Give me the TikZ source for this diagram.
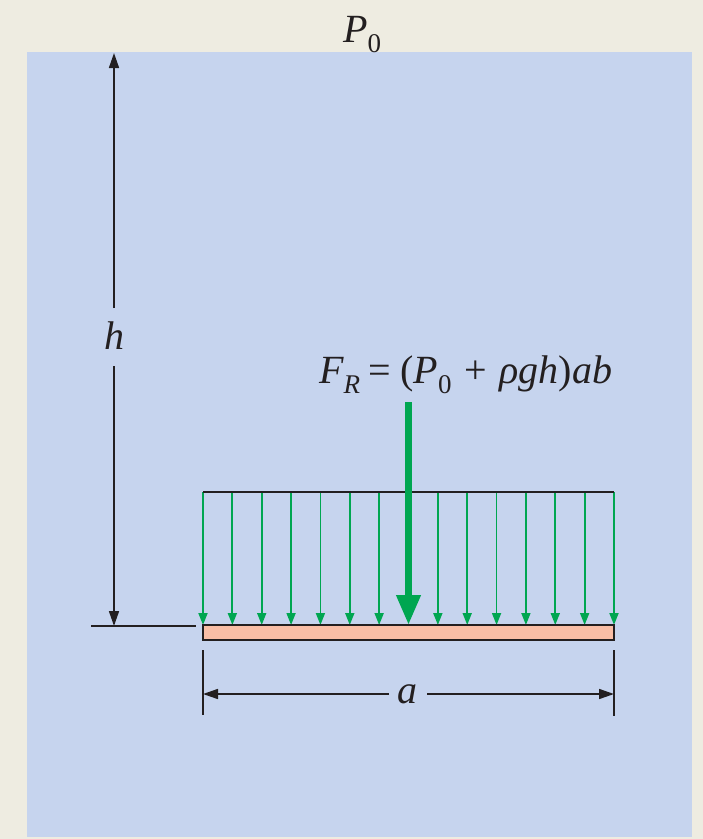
\documentclass[tikz,border=0pt]{standalone}
\usepackage{fontspec}
\setmainfont{Liberation Serif}
\usetikzlibrary{arrows.meta}
\definecolor{bgbeige}{HTML}{EEECE1}
\definecolor{water}{HTML}{C6D4EE}
\definecolor{platefill}{HTML}{F9BEA6}
\definecolor{loadgreen}{HTML}{00A651}
\definecolor{ink}{HTML}{231F20}
\newcommand{\lsub}[1]{\raisebox{-0.27em}{\fontsize{27}{30}\selectfont #1}}
\begin{document}
\begin{tikzpicture}[x=1pt,y=-1pt,
  lbl/.style={font=\fontsize{40}{48}\selectfont, text=ink, inner sep=0pt},
  dimline/.style={draw=ink, line width=1.6pt},
  dimarrow/.style={dimline, -{Triangle[length=15pt,width=10pt]}},
  loadarrow/.style={draw=loadgreen, line width=1.8pt, -{Triangle[length=12pt,width=9pt]}},
  bigarrow/.style={draw=loadgreen, line width=7pt, -{Triangle[length=30pt,width=23pt]}},
  platebox/.style={draw=ink, line width=1.6pt, fill=platefill},
]
\fill[bgbeige] (0,0) rectangle (703,839);
\useasboundingbox (0,0) rectangle (703,839);
\fill[water] (27,52) rectangle (692,837);

% labels
\node[lbl, anchor=base west] (p0) at (343,42) {\itshape P\lsub{\upshape 0}};
\node[lbl] (hl) at (114,336) {\itshape h};
\node[lbl] (al) at (407,694) {\itshape a};
\node[lbl, anchor=base west] (fr) at (319,383)
  {\itshape F\lsub{R}\hspace{0.22em}\upshape =\hspace{0.22em}(\itshape P\lsub{\upshape 0}\hspace{0.32em}\upshape +\hspace{0.32em}\itshape ρgh\upshape )\itshape ab};

% h dimension
\coordinate (htop) at (114,53);
\coordinate (hgapT) at (114,308);
\coordinate (hgapB) at (114,366);
\coordinate (hbot) at (114,626);
\draw[dimarrow] (hgapT) -- (htop);
\draw[dimarrow] (hgapB) -- (hbot);
\coordinate (g1) at (91,626);
\coordinate (g2) at (196,626);
\draw[dimline] (g1) -- (g2);

% distributed load
\foreach \i in {0,...,14}{%
  \ifnum\i=7\relax\else
    \draw[loadarrow] ({203+\i*29.357},492) -- ({203+\i*29.357},625);
  \fi}
\coordinate (lt1) at (203,492);
\coordinate (lt2) at (614,492);
\draw[dimline] (lt1) -- (lt2);

% plate
\draw[platebox] (203,625) rectangle (614,640);

% resultant
\coordinate (fa) at (408.5,402);
\coordinate (fb) at (408.5,625);
\draw[bigarrow] (fa) -- (fb);

% a dimension
\coordinate (e1a) at (203,650); \coordinate (e1b) at (203,715);
\coordinate (e2a) at (614,650); \coordinate (e2b) at (614,716);
\draw[dimline] (e1a) -- (e1b);
\draw[dimline] (e2a) -- (e2b);
\coordinate (agL) at (389,694); \coordinate (agR) at (427,694);
\coordinate (aL) at (203,694); \coordinate (aR) at (614,694);
\draw[dimarrow] (agL) -- (aL);
\draw[dimarrow] (agR) -- (aR);
\end{tikzpicture}
\end{document}
